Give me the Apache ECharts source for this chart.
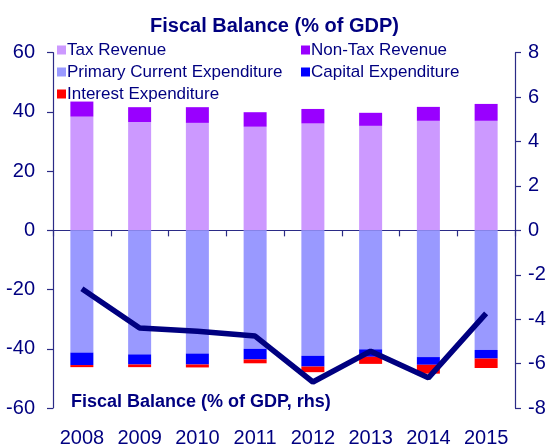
<!DOCTYPE html>
<html>
<head>
<meta charset="utf-8">
<script src="https://cdn.jsdelivr.net/npm/echarts@6/dist/echarts.min.js"></script>
<style>
html,body{margin:0;padding:0;background:#fff;}
#chart{width:549px;height:448px;}
</style>
</head>
<body>
<div id="chart"></div>
<script>
const years = ['2008','2009','2010','2011','2012','2013','2014','2015'];
const taxRevenue = [38.4, 36.6, 36.3, 35.0, 36.1, 35.3, 37.0, 37.0];
const nonTaxRevenue = [5.1, 5.0, 5.3, 4.9, 4.9, 4.4, 4.7, 5.7];
const primaryCurrentExp = [-41.3, -41.9, -41.6, -40.0, -42.4, -40.2, -42.8, -40.4];
const capitalExp = [-4.2, -3.4, -3.7, -3.6, -3.6, -2.5, -2.6, -2.9];
const interestExp = [-0.7, -0.9, -1.0, -1.3, -1.9, -2.4, -3.0, -3.2];
const fiscalBalance = [-2.63, -4.40, -4.54, -4.76, -6.83, -5.44, -6.64, -3.74];
const leftTicks = {min: -60, max: 60, interval: 20};
const rightTicks = {min: -8, max: 8, interval: 2};

const navy = '#000080';
const axisCol = '#2b2b86';
const font = 'Liberation Sans, Arial, sans-serif';

function barSeries(name, data, color) {
  return {
    name: name, type: 'bar', stack: 'all', data: data,
    barWidth: 23, itemStyle: {color: color}, xAxisIndex: 0, yAxisIndex: 0,
    emphasis: {disabled: true}
  };
}

const chart = echarts.init(document.getElementById('chart'), null, {renderer: 'canvas'});
chart.setOption({
  animation: false,
  textStyle: {fontFamily: font},
  title: [
    {text: 'Fiscal Balance (% of GDP)', left: 'center', top: 11,
     textStyle: {fontFamily: font, fontSize: 20, fontWeight: 'bold', color: navy}},
    {text: 'Fiscal Balance (% of GDP, rhs)', left: 66, top: 388,
     textStyle: {fontFamily: font, fontSize: 18, fontWeight: 'bold', color: navy}}
  ],
  legend: [
    {orient: 'vertical', left: 52, top: 36, itemWidth: 9, itemHeight: 9, itemGap: 4,
     icon: 'rect', selectedMode: false,
     textStyle: {fontFamily: font, fontSize: 17, color: navy, lineHeight: 18, padding: [0,0,0,-4]},
     data: ['Tax Revenue', 'Primary Current Expenditure', 'Interest Expenditure']},
    {orient: 'vertical', left: 296, top: 36, itemWidth: 9, itemHeight: 9, itemGap: 4,
     icon: 'rect', selectedMode: false,
     textStyle: {fontFamily: font, fontSize: 17, color: navy, lineHeight: 18, padding: [0,0,0,-4]},
     data: ['Non-Tax Revenue', 'Capital Expenditure']}
  ],
  grid: {left: 53, right: 34, top: 52.7, bottom: 39.3, containLabel: false},
  xAxis: [
    {type: 'category', data: years, boundaryGap: true,
     axisLine: {show: true, onZero: true, lineStyle: {color: axisCol, width: 1.2}},
     axisTick: {show: true, interval: 0, length: 6, lineStyle: {color: axisCol, width: 1.2}},
     axisLabel: {show: false}, splitLine: {show: false}},
    {type: 'category', data: years, position: 'bottom', boundaryGap: true,
     axisLine: {show: false, onZero: false}, axisTick: {show: false},
     axisLabel: {show: true, interval: 0, margin: 20, fontSize: 20, color: navy, fontFamily: font},
     splitLine: {show: false}}
  ],
  yAxis: [
    {type: 'value', position: 'left', min: leftTicks.min, max: leftTicks.max, interval: leftTicks.interval,
     axisLine: {show: true, lineStyle: {color: axisCol, width: 1.2}},
     axisTick: {show: true, length: 6, lineStyle: {color: axisCol, width: 1.2}},
     axisLabel: {fontSize: 20, color: navy, margin: 18, fontFamily: font},
     splitLine: {show: false}},
    {type: 'value', position: 'right', min: rightTicks.min, max: rightTicks.max, interval: rightTicks.interval,
     axisLine: {show: true, lineStyle: {color: axisCol, width: 1.2}},
     axisTick: {show: true, length: 6, lineStyle: {color: axisCol, width: 1.2}},
     axisLabel: {fontSize: 20, color: navy, margin: 13, fontFamily: font},
     splitLine: {show: false}}
  ],
  series: [
    barSeries('Tax Revenue', taxRevenue, '#CC99FF'),
    barSeries('Non-Tax Revenue', nonTaxRevenue, '#9900FF'),
    barSeries('Primary Current Expenditure', primaryCurrentExp, '#9999FF'),
    barSeries('Capital Expenditure', capitalExp, '#0000FF'),
    barSeries('Interest Expenditure', interestExp, '#FF0000'),
    {name: 'Fiscal Balance (% of GDP, rhs)', type: 'line', data: fiscalBalance,
     xAxisIndex: 0, yAxisIndex: 1, symbol: 'none', z: 5,
     lineStyle: {color: navy, width: 5.5}, itemStyle: {color: navy}}
  ]
});
</script>
</body>
</html>
